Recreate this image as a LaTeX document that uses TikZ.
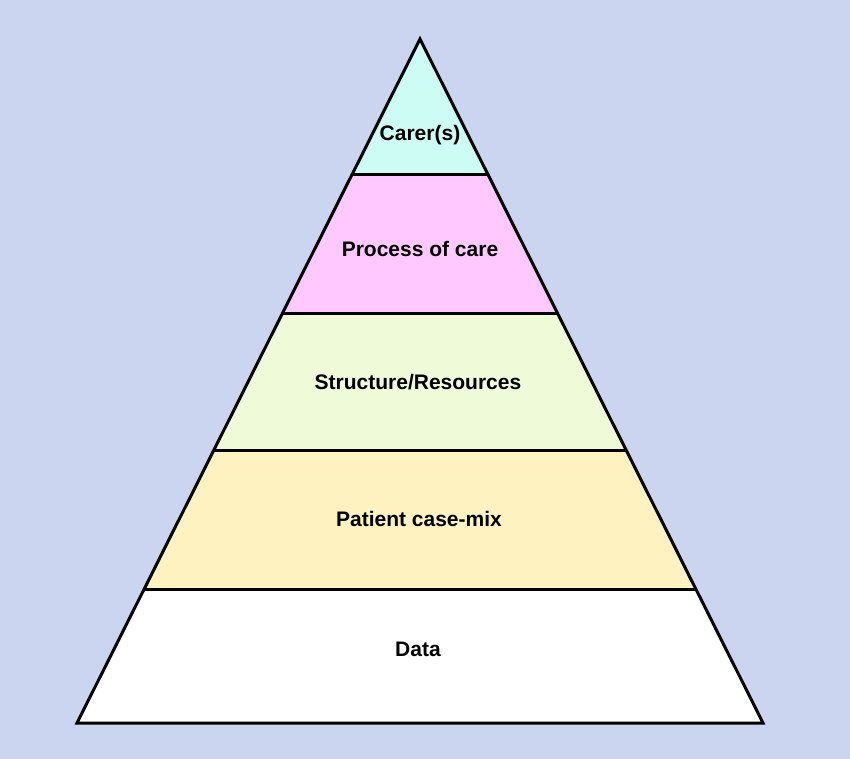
\documentclass[tikz,border=0pt]{standalone}
\usepackage{fontspec}
\setmainfont{Liberation Sans}
\usetikzlibrary{calc}
\definecolor{bgblue}{HTML}{CBD5F0}
\definecolor{lcarer}{HTML}{CCFCF4}
\definecolor{lprocess}{HTML}{FFC8FF}
\definecolor{lstruct}{HTML}{EFFBD8}
\definecolor{lpatient}{HTML}{FEF3C0}
\definecolor{ldata}{HTML}{FFFFFF}
\tikzset{
  layerlabel/.style={font=\bfseries\fontsize{21}{24}\selectfont, text=black, inner sep=0pt},
  layerline/.style={line width=3pt, line join=miter, line cap=round},
}
\begin{document}
\begin{tikzpicture}[x=1pt,y=-1pt]
\fill[bgblue] (0,0) rectangle (850,759);
\useasboundingbox (0,0) rectangle (850,759);
\coordinate (A) at (420,39);
\coordinate (L) at (77,723);
\coordinate (R) at (763,723);
\foreach \i/\t in {1/0.1988,2/0.4006,3/0.6009,4/0.8041}{
  \coordinate (l\i) at ($(A)!\t!(L)$);
  \coordinate (r\i) at ($(A)!\t!(R)$);
}
\fill[lcarer] (A) -- (r1) -- (l1) -- cycle;
\fill[lprocess] (l1) -- (r1) -- (r2) -- (l2) -- cycle;
\fill[lstruct] (l2) -- (r2) -- (r3) -- (l3) -- cycle;
\fill[lpatient] (l3) -- (r3) -- (r4) -- (l4) -- cycle;
\fill[ldata] (l4) -- (r4) -- (R) -- (L) -- cycle;
\draw[layerline] (l1) -- (r1);
\draw[layerline] (l2) -- (r2);
\draw[layerline] (l3) -- (r3);
\draw[layerline] (l4) -- (r4);
\draw[layerline] (A) -- (R) -- (L) -- cycle;
\node[layerlabel] (carer) at (420,135) {Carer(s)};
\node[layerlabel] (process) at (420,249) {Process of care};
\node[layerlabel] (struct) at (418,382) {Structure/Resources};
\node[layerlabel] (patient) at (419,519) {Patient case-mix};
\node[layerlabel] (data) at (418,649) {Data};
\end{tikzpicture}
\end{document}
